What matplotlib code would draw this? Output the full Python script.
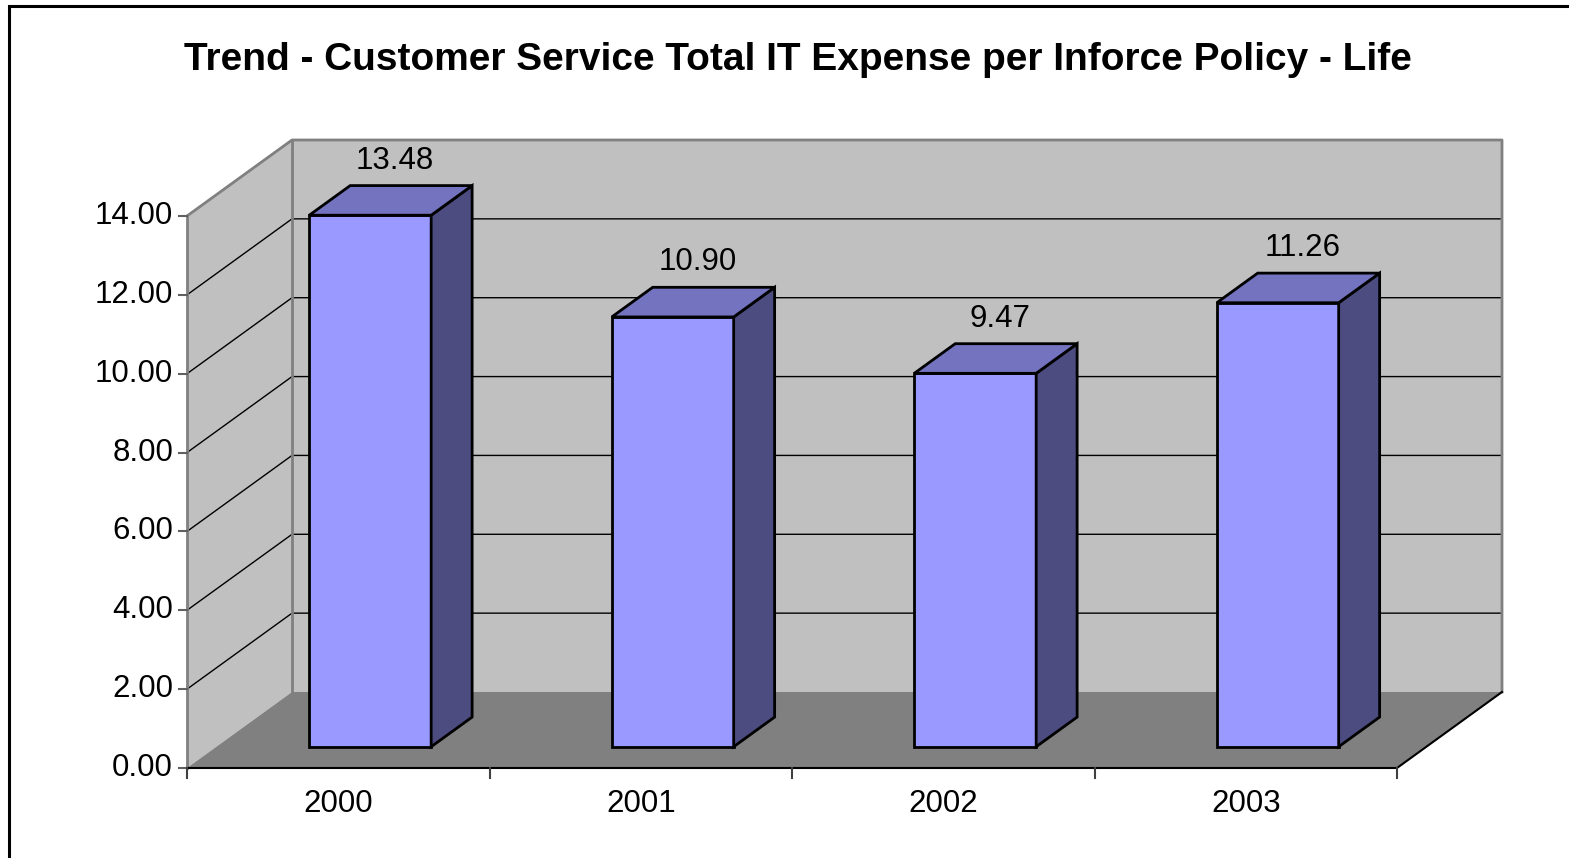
import matplotlib.pyplot as plt
from matplotlib.patches import Polygon, Rectangle

years = ['2000', '2001', '2002', '2003']
values = [13.48, 10.90, 9.47, 11.26]
y_ticks = [0, 2, 4, 6, 8, 10, 12, 14]
title = 'Trend - Customer Service Total IT Expense per Inforce Policy - Life'

W, H = 1569, 858
FONT = ['Liberation Sans', 'DejaVu Sans']

fig = plt.figure(figsize=(W / 100, H / 100), dpi=100)
ax = fig.add_axes([0, 0, 1, 1])

# one category = 302.5 px, one value unit = 552/14 px, origin of the front plane at (187, 768)
x0, xs = 187, 302.5
y0, ys = 768, 552 / 14
ax.set_xlim(-x0 / xs, (W - x0) / xs)
ax.set_ylim((y0 - H) / ys, y0 / ys)
ax.axis('off')

# oblique depth offset for the full depth of the plot box
DX = 105 / xs
DY = 76 / ys
ymax = y_ticks[-1]
n = len(years)


def P(x, y, d):
    return (x + d * DX, y + d * DY)


def poly(pts, fc, ec='none', lw=0, z=1):
    ax.add_patch(Polygon(pts, closed=True, facecolor=fc, edgecolor=ec,
                         linewidth=lw, joinstyle='miter', zorder=z))


# walls and floor
poly([P(0, 0, 0), P(0, ymax, 0), P(0, ymax, 1), P(0, 0, 1)], '#C0C0C0')
poly([P(0, 0, 1), P(0, ymax, 1), P(n, ymax, 1), P(n, 0, 1)], '#C0C0C0')
poly([P(0, 0, 0), P(n, 0, 0), P(n, 0, 1), P(0, 0, 1)], '#808080')

# gridlines on side and back wall
for t in y_ticks[1:-1]:
    xs_, ys_ = zip(P(0, t, 0), P(0, t, 1), P(n, t, 1))
    ax.plot(xs_, ys_, color='black', lw=1, zorder=2)

# wall edges
xs_, ys_ = zip(P(0, ymax, 0), P(0, ymax, 1), P(n, ymax, 1), P(n, 0, 1))
ax.plot(xs_, ys_, color='#808080', lw=2, zorder=2)
xs_, ys_ = zip(P(0, 0, 1), P(0, ymax, 1))
ax.plot(xs_, ys_, color='#808080', lw=2, zorder=2)

# axes lines
ax.plot([0, 0], [0, ymax], color='#808080', lw=2, zorder=3)
xs_, ys_ = zip(P(0, 0, 0), P(n, 0, 0), P(n, 0, 1))
ax.plot(xs_, ys_, color='black', lw=1.5, zorder=3)

for t in y_ticks:
    ax.plot([-8 / xs, 0], [t, t], color='#606060', lw=1.5, zorder=3)
    ax.text(-14 / xs, t, f'{t:.2f}', ha='right', va='center',
            fontsize=22.5, family=FONT)

for i in range(n + 1):
    ax.plot([i, i], [0, -10 / ys], color='#404040', lw=1.5, zorder=3)

for i, yr in enumerate(years):
    ax.text(i + 0.5, -36 / ys, yr, ha='center', va='center',
            fontsize=22.5, family=FONT)

# bars
d0, d1 = 0.28, 0.67
for i, v in enumerate(values):
    xl, xr = i + 0.307, i + 0.71
    poly([P(xl, 0, d0), P(xr, 0, d0), P(xr, v, d0), P(xl, v, d0)],
         '#9999FF', 'black', 2, 4)
    poly([P(xr, 0, d0), P(xr, 0, d1), P(xr, v, d1), P(xr, v, d0)],
         '#4C4C80', 'black', 2, 4)
    poly([P(xl, v, d0), P(xr, v, d0), P(xr, v, d1), P(xl, v, d1)],
         '#7373BF', 'black', 2, 4)
    lx, ly = P(i + 0.51, v, d1)
    ax.text(lx - (d1 - d0) / 2 * DX + 4 / xs, ly + 25 / ys, f'{v:.2f}',
            ha='center', va='center', fontsize=22.5, family=FONT, zorder=5)

fig.text(798 / W, 1 - 60 / H, title, ha='center', va='center',
         fontsize=28, fontweight='bold', family=FONT)

# chart frame
fig.patches.append(Rectangle((9 / W, -0.1), 1.2, 1.1 - 6 / H, fill=False,
                             edgecolor='black', lw=2.2,
                             transform=fig.transFigure, figure=fig))

fig.savefig('out.png', dpi=100)
